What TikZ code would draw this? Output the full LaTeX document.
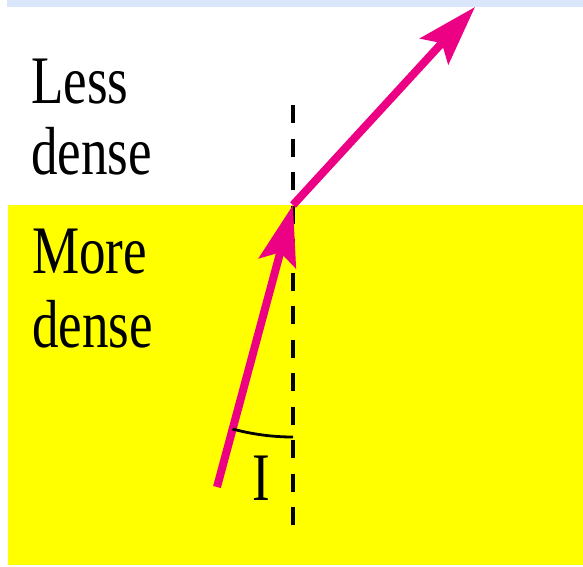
\documentclass[tikz,border=0pt]{standalone}
\usepackage{fontspec}
\setmainfont{Liberation Serif}
\usetikzlibrary{arrows.meta,calc}
\definecolor{raypink}{RGB}{236,0,132}
\definecolor{skyband}{RGB}{218,230,250}
\definecolor{densefill}{RGB}{255,255,0}

\begin{document}
\begin{tikzpicture}[x=1pt, y=-1pt,
    medium/.style={font=\fontsize{68}{70}\selectfont, inner sep=0pt, anchor=base west, xscale=0.78},
    ray/.style={line width=8pt, raypink},
    rayhead/.style={-{Stealth[length=60pt, width=38pt, inset=11pt]}},
    normal/.style={line width=3.2pt, dash pattern=on 18pt off 15.5pt}]
    \useasboundingbox (0,0) rectangle (583,566);

    % Background bands
    \fill[skyband] (7,0) rectangle (583,7);
    \fill[densefill] (8,205) rectangle (583,565);

    % Medium labels
    \node[medium] (less) at (31,103) {Less};
    \node[medium] (lessb) at (31,174) {dense};
    \node[medium] (more) at (32,273) {More};
    \node[medium] (moreb) at (32,347) {dense};

    % Points of the ray
    \coordinate (src) at (217,487);
    \coordinate (hit) at (293,205);
    \coordinate (out) at (475,7);

    % Normal
    \coordinate (ntop) at (293,105);
    \coordinate (nbot) at (293,528);
    \draw[normal] (ntop) -- (nbot);

    % Incident and refracted rays
    \draw[ray, rayhead] (src) -- (hit);
    \draw[ray, rayhead] (hit) -- (out);

    % Angle of incidence
    \draw[line width=2.8pt] (hit) ++(105.1:232) arc[start angle=105.1, end angle=90, radius=232];
    \node[medium, anchor=base] (angle) at (261,500) {I};
\end{tikzpicture}
\end{document}
